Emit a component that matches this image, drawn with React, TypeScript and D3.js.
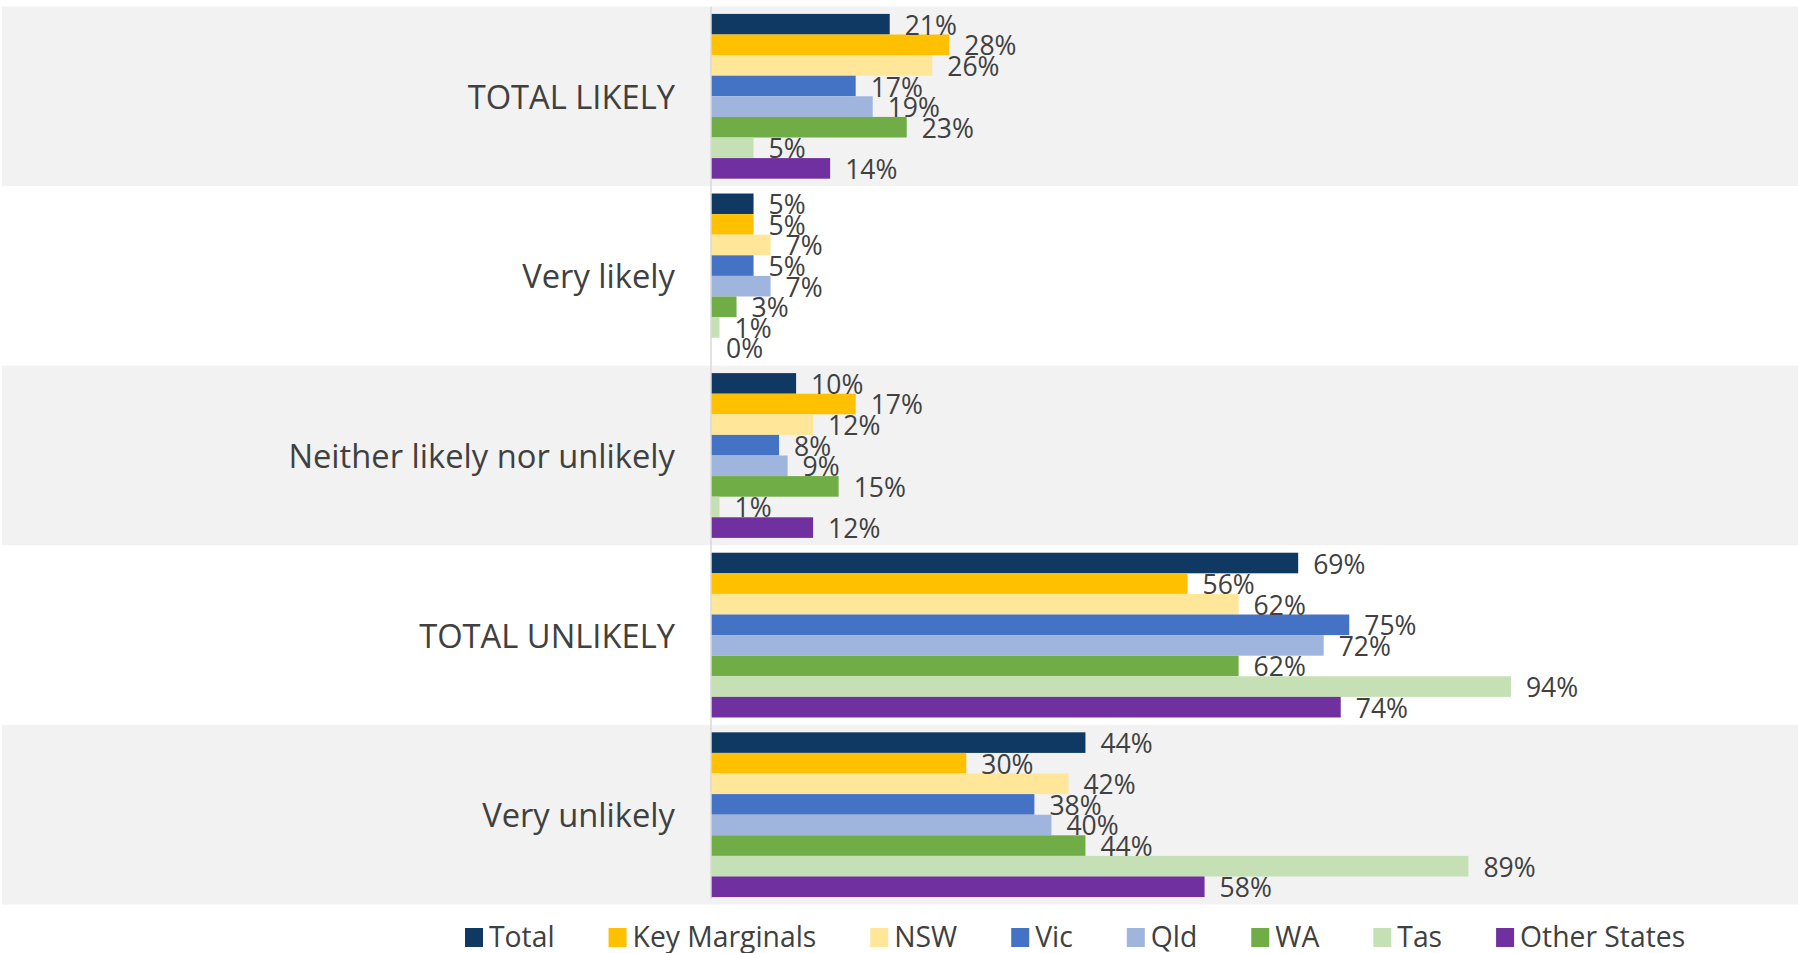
import React, { useEffect, useRef } from "react";
import * as d3 from "d3";

const categories = ["TOTAL LIKELY", "Very likely", "Neither likely nor unlikely", "TOTAL UNLIKELY", "Very unlikely"];
const seriesNames = ["Total", "Key Marginals", "NSW", "Vic", "Qld", "WA", "Tas", "Other States"];
const seriesColors = ["#0F3862", "#FFC000", "#FFE699", "#4472C4", "#9FB5DD", "#70AD47", "#C5E0B4", "#7030A0"];

const totalValues = [21, 5, 10, 69, 44];
const keyMarginalsValues = [28, 5, 17, 56, 30];
const nswValues = [26, 7, 12, 62, 42];
const vicValues = [17, 5, 8, 75, 38];
const qldValues = [19, 7, 9, 72, 40];
const waValues = [23, 3, 15, 62, 44];
const tasValues = [5, 1, 1, 94, 89];
const otherStatesValues = [14, 0, 12, 74, 58];

const seriesValues = [totalValues, keyMarginalsValues, nswValues, vicValues, qldValues, waValues, tasValues, otherStatesValues];

const W = 1798;
const H = 953;
const FONT = "'Open Sans', 'Noto Sans', sans-serif";
const TEXT = "#404040";

export default function App() {
  const ref = useRef<SVGSVGElement | null>(null);

  useEffect(() => {
    const svg = d3.select(ref.current);
    svg.selectAll("*").remove();

    const axisX = 711;
    const y = d3.scaleBand<string>().domain(categories).range([6.5, 904.5]).paddingInner(0).paddingOuter(0);
    const yi = d3.scaleBand<string>().domain(seriesNames).range([0, y.bandwidth()]).paddingInner(0).paddingOuter(0.36);
    const x = d3.scaleLinear().domain([0, 100]).range([axisX, axisX + 851]);

    // background bands
    svg.append("g").selectAll("rect").data(categories.filter((_, i) => i % 2 === 0))
      .join("rect")
      .attr("x", 2).attr("width", W - 2)
      .attr("y", (d) => y(d)!)
      .attr("height", y.bandwidth())
      .attr("fill", "#F2F2F2");

    // category labels
    svg.append("g").selectAll("text").data(categories).join("text")
      .attr("x", axisX - 36)
      .attr("y", (d) => y(d)! + y.bandwidth() / 2)
      .attr("text-anchor", "end")
      .attr("dominant-baseline", "central")
      .attr("font-family", FONT)
      .attr("font-size", 32.7)
      .attr("fill", TEXT)
      .text((d) => d);

    // bars
    const groups = svg.append("g").selectAll("g").data(categories).join("g")
      .attr("transform", (d) => `translate(0,${y(d)})`);

    const cells = (ci: number) => seriesNames.map((s, si) => ({ s, si, v: seriesValues[si][ci] }));

    groups.each(function (cat, ci) {
      const g = d3.select(this);
      g.selectAll("rect").data(cells(ci)).join("rect")
        .attr("x", x(0))
        .attr("y", (d) => yi(d.s)!)
        .attr("height", yi.bandwidth())
        .attr("width", (d) => x(d.v) - x(0))
        .attr("fill", (d) => seriesColors[d.si]);
      g.selectAll("text").data(cells(ci)).join("text")
        .attr("x", (d) => x(d.v) + 15)
        .attr("y", (d) => yi(d.s)! + yi.bandwidth() / 2 + 0.5)
        .attr("dominant-baseline", "central")
        .attr("font-family", FONT)
        .attr("font-size", 26.5)
        .attr("fill", TEXT)
        .text((d) => `${d.v}%`);
    });

    // axis line
    svg.append("line")
      .attr("x1", axisX).attr("x2", axisX)
      .attr("y1", 6.5).attr("y2", 899)
      .attr("stroke", "#D9D9D9").attr("stroke-width", 1.5);

    // legend
    const legend = svg.append("g");
    let cx = 465;
    const ly = 936;
    seriesNames.forEach((name, i) => {
      const item = legend.append("g").attr("transform", `translate(${cx},0)`);
      item.append("rect").attr("x", 0).attr("y", ly - 8).attr("width", 18).attr("height", 19).attr("fill", seriesColors[i]);
      const t = item.append("text")
        .attr("x", 24).attr("y", ly)
        .attr("dominant-baseline", "central")
        .attr("font-family", FONT)
        .attr("font-size", 28.3)
        .attr("fill", TEXT)
        .text(name);
      const w = (t.node() as SVGTextElement).getComputedTextLength();
      cx += 24 + w + 54;
    });
  }, []);

  return (
    <svg ref={ref} width={W} height={H} style={{ position: "absolute", left: 0, top: 0, background: "#FFFFFF" }} />
  );
}
